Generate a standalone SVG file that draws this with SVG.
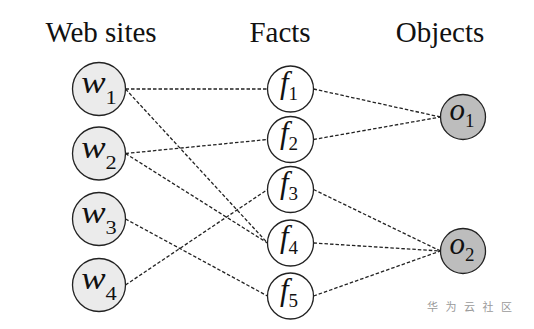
<svg xmlns="http://www.w3.org/2000/svg" width="534" height="329" viewBox="0 0 534 329">
<style>
.hdr{font-family:"Liberation Serif","Times New Roman",serif;font-size:29px;fill:#111;text-anchor:middle}
.lbl{font-family:"Liberation Serif","Times New Roman",serif;font-size:31px;font-style:italic;fill:#111;text-anchor:middle}
.sub{font-style:normal;font-size:19px}
.w{fill:#ebebeb;stroke:#222;stroke-width:1.3}
.f{fill:#fff;stroke:#222;stroke-width:1.3}
.o{fill:#bdbdbd;stroke:#222;stroke-width:1.3}
.e{stroke:#222;stroke-width:1.3;stroke-dasharray:3.5 2;fill:none}
.wm{font-family:"Noto Sans CJK SC",sans-serif;font-size:11px;fill:#9a9a9a;letter-spacing:7.5px}
</style>
<rect width="534" height="329" fill="#fff"/>
<g id="headers">
<text class="hdr" x="101" y="42">Web sites</text>
<text class="hdr" x="280" y="42">Facts</text>
<text class="hdr" x="440" y="42">Objects</text>
</g>
<g id="connectors">
<line class="e" x1="125.5" y1="89" x2="267.5" y2="89"/>
<line class="e" x1="125.5" y1="89" x2="267.5" y2="243"/>
<line class="e" x1="125.5" y1="153.5" x2="267.5" y2="139.5"/>
<line class="e" x1="125.5" y1="153.5" x2="267.5" y2="243"/>
<line class="e" x1="125.5" y1="219" x2="267.5" y2="296"/>
<line class="e" x1="125.5" y1="285" x2="267.5" y2="189.5"/>
<line class="e" x1="313.5" y1="89" x2="440.5" y2="117"/>
<line class="e" x1="313.5" y1="139.5" x2="440.5" y2="117"/>
<line class="e" x1="313.5" y1="189.5" x2="440.5" y2="251"/>
<line class="e" x1="313.5" y1="243" x2="440.5" y2="251"/>
<line class="e" x1="313.5" y1="296" x2="440.5" y2="251"/>
</g>
<g id="w1"><circle class="w" cx="99" cy="89" r="26.5"/><text class="lbl" transform="translate(99 93) scale(1.18 1)">w<tspan class="sub" dy="11">1</tspan></text></g>
<g id="w2"><circle class="w" cx="99" cy="153.5" r="26.5"/><text class="lbl" transform="translate(99 157.5) scale(1.18 1)">w<tspan class="sub" dy="11">2</tspan></text></g>
<g id="w3"><circle class="w" cx="99" cy="219" r="26.5"/><text class="lbl" transform="translate(99 223) scale(1.18 1)">w<tspan class="sub" dy="11">3</tspan></text></g>
<g id="w4"><circle class="w" cx="99" cy="285" r="26.5"/><text class="lbl" transform="translate(99 289) scale(1.18 1)">w<tspan class="sub" dy="11">4</tspan></text></g>
<g id="f1"><circle class="f" cx="290.5" cy="89" r="23"/><text class="lbl" x="289" y="92.5">f<tspan class="sub" dy="7">1</tspan></text></g>
<g id="f2"><circle class="f" cx="290.5" cy="139.5" r="23"/><text class="lbl" x="289" y="143">f<tspan class="sub" dy="7">2</tspan></text></g>
<g id="f3"><circle class="f" cx="290.5" cy="189.5" r="23"/><text class="lbl" x="289" y="193">f<tspan class="sub" dy="7">3</tspan></text></g>
<g id="f4"><circle class="f" cx="290.5" cy="243" r="23"/><text class="lbl" x="289" y="246.5">f<tspan class="sub" dy="7">4</tspan></text></g>
<g id="f5"><circle class="f" cx="290.5" cy="296" r="23"/><text class="lbl" x="289" y="299.5">f<tspan class="sub" dy="7">5</tspan></text></g>
<g id="o1"><circle class="o" cx="463" cy="117" r="22.5"/><text class="lbl" x="462" y="120">o<tspan class="sub" dy="7">1</tspan></text></g>
<g id="o2"><circle class="o" cx="463" cy="251" r="22.5"/><text class="lbl" x="462" y="254">o<tspan class="sub" dy="7">2</tspan></text></g>
<text class="wm" x="427" y="311">华为云社区</text>
</svg>
